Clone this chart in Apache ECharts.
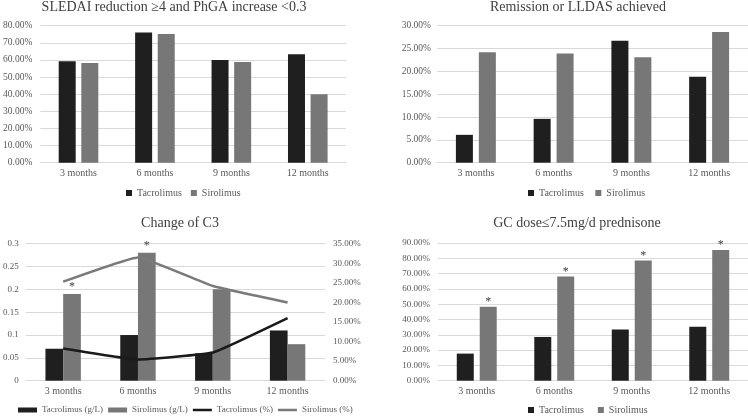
<!DOCTYPE html>
<html>
<head>
<meta charset="utf-8">
<script src="https://cdn.jsdelivr.net/npm/echarts@6/dist/echarts.min.js"></script>
<style>html,body{margin:0;padding:0;background:#fff}#c{width:748px;height:416px}</style>
</head>
<body>
<div id="c"></div>
<script>
// ---- data ----
var categories = ['3 months', '6 months', '9 months', '12 months'];
var sledaiTac = [59.2, 76.1, 60.0, 63.3];
var sledaiSir = [58.2, 75.1, 58.8, 39.9];
var remTac = [6.1, 9.6, 26.7, 18.8];
var remSir = [24.2, 23.9, 23.1, 28.6];
var c3TacGL = [0.07, 0.10, 0.06, 0.11];
var c3SirGL = [0.19, 0.28, 0.20, 0.08];
var c3TacPct = [8.2, 5.4, 7.2, 16.0];
var c3SirPct = [25.3, 31.5, 24.2, 20.0];
var c3Sig = ['*', '*', '', ''];
var gcTac = [17.7, 28.6, 33.4, 35.3];
var gcSir = [48.4, 68.1, 78.5, 85.4];
var gcSig = ['*', '*', '*', '*'];
var titles = ['SLEDAI reduction \u22654 and PhGA increase <0.3', 'Remission or LLDAS achieved', 'Change of C3', 'GC dose\u22647.5mg/d prednisone'];

// ---- styling ----
var FONT = 'Liberation Serif';
var TAC = '#1f1f1f', SIR = '#777777';
var GRIDC = '#d9d9d9', LBL = '#595959';
function pct(v) { return v.toFixed(2) + '%'; }

function xAx(gi) {
  return {
    type: 'category', gridIndex: gi, data: categories,
    axisLine: { lineStyle: { color: GRIDC, width: 1 } },
    axisTick: { show: false },
    axisLabel: { color: LBL, fontFamily: FONT, fontSize: 10, margin: 6 }
  };
}
function yAx(gi, max, interval, fmt, margin, fs) {
  return {
    type: 'value', gridIndex: gi, min: 0, max: max, interval: interval,
    axisLine: { show: false }, axisTick: { show: false },
    splitLine: { lineStyle: { color: GRIDC, width: 1 } },
    axisLabel: { color: LBL, fontFamily: FONT, fontSize: fs || 9, margin: margin, formatter: fmt }
  };
}
function legendCfg(x, y, names, iw, ih, gap, fs) {
  return {
    left: x, top: y, padding: 0, itemWidth: iw, itemHeight: ih, itemGap: gap,
    data: names, textStyle: { color: LBL, fontFamily: FONT, fontSize: fs }
  };
}
function titleCfg(i, x, y) {
  return { text: titles[i], left: x, top: y, textAlign: 'center', padding: 0,
    textStyle: { color: '#404040', fontFamily: FONT, fontSize: 14, fontWeight: 'normal' } };
}
function sigLabel(arr, dist) {
  return { show: true, position: 'top', distance: dist, color: '#404040', fontFamily: FONT, fontSize: 12,
    formatter: function (p) { return arr[p.dataIndex]; } };
}
function rectItem(n) { return { name: n, icon: 'rect' }; }
var lineIcon = 'path://M0,0L19,0L19,2.5L0,2.5Z';

var option = {
  animation: false,
  backgroundColor: '#ffffff',
  title: [titleCfg(0, 174, 0), titleCfg(1, 578, 0), titleCfg(2, 180, 216), titleCfg(3, 577, 216)],
  legend: [
    legendCfg(126, 188, [rectItem('Tacrolimus'), rectItem('Sirolimus')], 6, 6, 9, 10),
    legendCfg(528, 188, [rectItem('Tacrolimus '), rectItem('Sirolimus ')], 6, 6, 9, 10),
    legendCfg(18, 405.5, [rectItem('Tacrolimus (g/L)'), rectItem('Sirolimus (g/L)'),
      { name: 'Tacrolimus (%)', icon: lineIcon, itemStyle: { color: '#1a1a1a' } },
      { name: 'Sirolimus (%)', icon: lineIcon, itemStyle: { color: '#7a7a7a' } }], 19, 5, 5, 9),
    legendCfg(528, 405, [rectItem('Tacrolimus  '), rectItem('Sirolimus  ')], 6, 6, 9, 10)
  ],
  grid: [
    { left: 36, right: 402, top: 25.7, bottom: 253.3 },
    { left: 437, right: 0, top: 25.7, bottom: 253.3 },
    { left: 24, right: 423, top: 243.7, bottom: 35.3 },
    { left: 438, right: 0, top: 243, bottom: 35.3 }
  ],
  xAxis: [xAx(0), xAx(1), xAx(2), xAx(3)],
  yAxis: [
    yAx(0, 80, 10, pct, 8, 9.5),
    yAx(1, 30, 5, pct, 6, 9.5),
    yAx(2, 0.3, 0.05, null, 7),
    Object.assign(yAx(2, 35, 5, pct, 8), { position: 'right', splitLine: { show: false } }),
    yAx(3, 90, 10, pct, 8)
  ],
  series: [
    { name: 'Tacrolimus', type: 'bar', xAxisIndex: 0, yAxisIndex: 0, data: sledaiTac, barWidth: 17, barGap: '33%', itemStyle: { color: TAC } },
    { name: 'Sirolimus', type: 'bar', xAxisIndex: 0, yAxisIndex: 0, data: sledaiSir, barWidth: 17, barGap: '33%', itemStyle: { color: SIR } },
    { name: 'Tacrolimus ', type: 'bar', xAxisIndex: 1, yAxisIndex: 1, data: remTac, barWidth: 17, barGap: '35%', itemStyle: { color: TAC } },
    { name: 'Sirolimus ', type: 'bar', xAxisIndex: 1, yAxisIndex: 1, data: remSir, barWidth: 17, barGap: '35%', itemStyle: { color: SIR } },
    { name: 'Tacrolimus (g/L)', type: 'bar', xAxisIndex: 2, yAxisIndex: 2, data: c3TacGL, barWidth: 17.7, barGap: 0, itemStyle: { color: TAC } },
    { name: 'Sirolimus (g/L)', type: 'bar', xAxisIndex: 2, yAxisIndex: 2, data: c3SirGL, barWidth: 17.7, barGap: 0, itemStyle: { color: SIR }, label: sigLabel(c3Sig, 1) },
    { name: 'Tacrolimus (%)', type: 'line', xAxisIndex: 2, yAxisIndex: 3, data: c3TacPct, symbol: 'none', smooth: 0.1, lineStyle: { color: '#1a1a1a', width: 2.5 }, itemStyle: { color: '#1a1a1a' } },
    { name: 'Sirolimus (%)', type: 'line', xAxisIndex: 2, yAxisIndex: 3, data: c3SirPct, symbol: 'none', smooth: 0.1, lineStyle: { color: '#7a7a7a', width: 2.5 }, itemStyle: { color: '#7a7a7a' } },
    { name: 'Tacrolimus  ', type: 'bar', xAxisIndex: 3, yAxisIndex: 4, data: gcTac, barWidth: 17, barGap: '35%', itemStyle: { color: TAC } },
    { name: 'Sirolimus  ', type: 'bar', xAxisIndex: 3, yAxisIndex: 4, data: gcSir, barWidth: 17, barGap: '35%', itemStyle: { color: SIR }, label: sigLabel(gcSig, -1) }
  ]
};
var chart = echarts.init(document.getElementById('c'), null, { renderer: 'canvas' });
chart.setOption(option);
</script>
</body>
</html>
